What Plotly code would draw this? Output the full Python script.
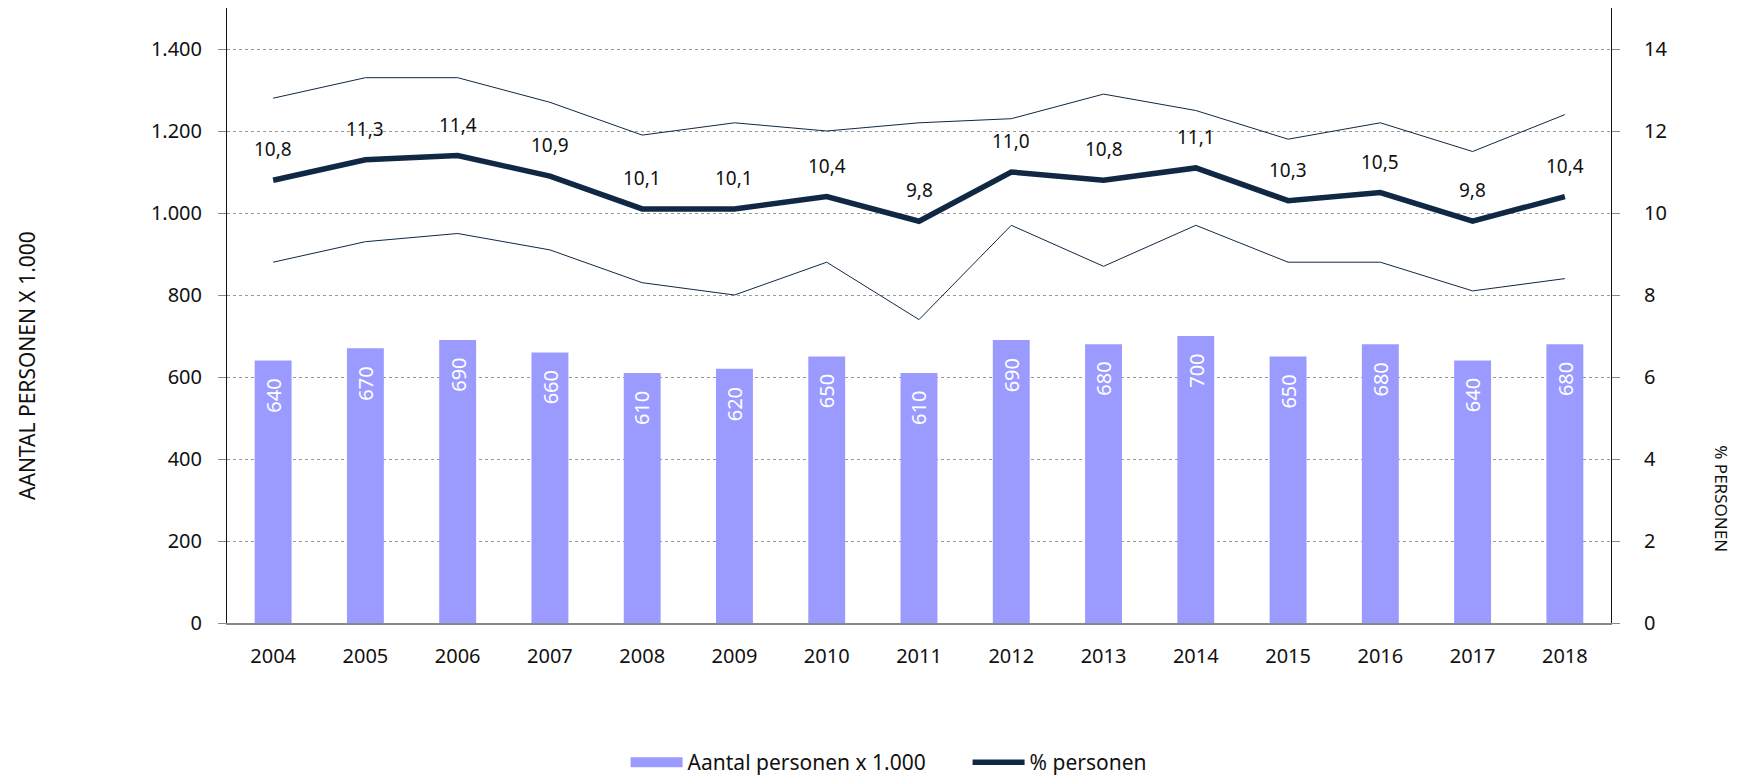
import plotly.graph_objects as go

years = ["2004", "2005", "2006", "2007", "2008", "2009", "2010", "2011", "2012",
         "2013", "2014", "2015", "2016", "2017", "2018"]
aantal = [640, 670, 690, 660, 610, 620, 650, 610, 690, 680, 700, 650, 680, 640, 680]
pct = [10.8, 11.3, 11.4, 10.9, 10.1, 10.1, 10.4, 9.8, 11.0, 10.8, 11.1, 10.3, 10.5, 9.8, 10.4]
pct_upper = [12.8, 13.3, 13.3, 12.7, 11.9, 12.2, 12.0, 12.2, 12.3, 12.9, 12.5, 11.8, 12.2, 11.5, 12.4]
pct_lower = [8.8, 9.3, 9.5, 9.1, 8.3, 8.0, 8.8, 7.4, 9.7, 8.7, 9.7, 8.8, 8.8, 8.1, 8.4]

left_ticks = [0, 200, 400, 600, 800, 1000, 1200, 1400]
left_ticktext = ["0", "200", "400", "600", "800", "1.000", "1.200", "1.400"]
right_ticks = [0, 2, 4, 6, 8, 10, 12, 14]

FONT = "Noto Sans"
NAVY = "#102844"
BAR = "#9b9bff"
TXT = "#111111"

fig = go.Figure()
fig.add_trace(go.Bar(
    x=years, y=aantal, name="Aantal personen x 1.000",
    marker=dict(color=BAR, line=dict(width=0)),
    yaxis="y", hoverinfo="skip", showlegend=False,
))
fig.add_trace(go.Scatter(
    x=[None], y=[None], mode="lines", name="Aantal personen x 1.000",
    line=dict(color=BAR, width=16), yaxis="y", hoverinfo="skip",
))
fig.add_trace(go.Scatter(
    x=years, y=pct_upper, mode="lines", line=dict(color=NAVY, width=1),
    yaxis="y2", showlegend=False, hoverinfo="skip",
))
fig.add_trace(go.Scatter(
    x=years, y=pct_lower, mode="lines", line=dict(color=NAVY, width=1),
    yaxis="y2", showlegend=False, hoverinfo="skip",
))
fig.add_trace(go.Scatter(
    x=years, y=pct, mode="lines", name="% personen",
    line=dict(color=NAVY, width=5.5), yaxis="y2",
))

annotations = []
for i, v in enumerate(aantal):
    annotations.append(dict(
        x=i, y=v, xref="x", yref="y", text=str(v), textangle=-90,
        yanchor="top", yshift=-16, showarrow=False,
        font=dict(size=20, color="white", family=FONT),
    ))
for i, v in enumerate(pct):
    annotations.append(dict(
        x=i, y=v, xref="x", yref="y2", text=f"{v:.1f}".replace(".", ","),
        showarrow=False, yshift=31, font=dict(size=19, color=TXT, family=FONT),
    ))
annotations.append(dict(
    x=-0.1445, y=0.418, xref="paper", yref="paper", text="AANTAL PERSONEN X 1.000",
    xanchor="center", yanchor="middle",
    textangle=-90, showarrow=False, font=dict(size=21, color=TXT, family=FONT),
))
annotations.append(dict(
    x=1.080, y=0.2016, xref="paper", yref="paper", text="% PERSONEN",
    xanchor="center", yanchor="middle",
    textangle=90, showarrow=False, font=dict(size=17, color=TXT, family=FONT),
))

fig.update_layout(
    width=1740, height=775,
    margin=dict(l=219, r=137, t=0, b=160),
    paper_bgcolor="white", plot_bgcolor="white",
    font=dict(family=FONT, size=20, color=TXT),
    bargap=0.6,
    showlegend=True,
    legend=dict(orientation="h", x=0.288, xanchor="left", y=-0.2276, yanchor="middle",
                font=dict(size=21, family=FONT), itemwidth=52,
                entrywidth=275, entrywidthmode="pixels", traceorder="normal"),
    xaxis=dict(
        type="category", categoryorder="array", categoryarray=years,
        showgrid=False, showline=True, linecolor="#888", linewidth=2,
        ticks="", ticklabelstandoff=14, tickfont=dict(size=20),
    ),
    yaxis=dict(
        range=[0, 1500], tickvals=left_ticks, ticktext=left_ticktext,
        showgrid=True, gridcolor="#999", griddash="dot", gridwidth=1,
        showline=True, linecolor="#111", linewidth=1,
        ticks="outside", ticklen=8, tickcolor="#888", ticklabelstandoff=12,
        zeroline=False, tickfont=dict(size=20),
    ),
    yaxis2=dict(
        range=[0, 15], tickvals=right_ticks, overlaying="y", side="right",
        showgrid=False, showline=True, linecolor="#111", linewidth=1,
        ticks="outside", ticklen=8, tickcolor="#888", ticklabelstandoff=20,
        zeroline=False, tickfont=dict(size=20),
    ),
    annotations=annotations,
)

fig.write_html("out.html")
